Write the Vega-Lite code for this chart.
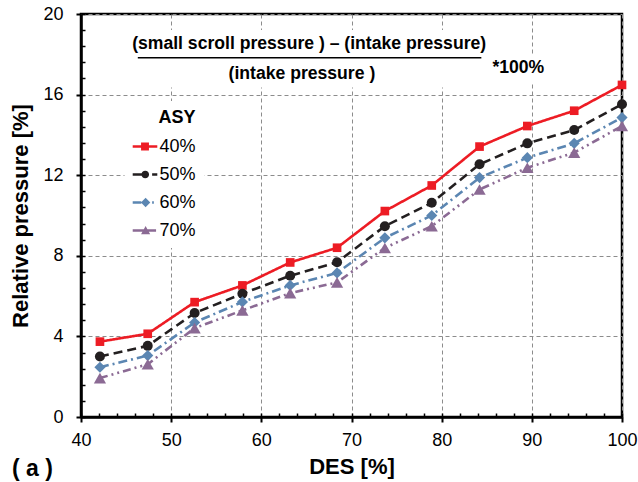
{
  "$schema": "https://vega.github.io/schema/vega-lite/v6.json",
  "width": 541,
  "height": 403,
  "autosize": "none",
  "padding": {"left": 81, "top": 14, "right": 16, "bottom": 65},
  "background": "white",
  "config": {
    "view": {"stroke": "black", "strokeWidth": 2.5},
    "font": "Liberation Sans"
  },
  "title": {
    "text": "( a )",
    "orient": "bottom",
    "anchor": "start",
    "frame": "group",
    "offset": -19,
    "dx": -69,
    "fontSize": 23,
    "fontWeight": "bold",
    "color": "black"
  },
  "datasets": {
    "pressure": [
      {"DES": 42.1, "value": 3.74, "ASY": "40%"},
      {"DES": 47.4, "value": 4.13, "ASY": "40%"},
      {"DES": 52.6, "value": 5.70, "ASY": "40%"},
      {"DES": 57.9, "value": 6.53, "ASY": "40%"},
      {"DES": 63.2, "value": 7.67, "ASY": "40%"},
      {"DES": 68.4, "value": 8.40, "ASY": "40%"},
      {"DES": 73.7, "value": 10.22, "ASY": "40%"},
      {"DES": 78.9, "value": 11.49, "ASY": "40%"},
      {"DES": 84.2, "value": 13.42, "ASY": "40%"},
      {"DES": 89.5, "value": 14.44, "ASY": "40%"},
      {"DES": 94.7, "value": 15.20, "ASY": "40%"},
      {"DES": 100, "value": 16.48, "ASY": "40%"},
      {"DES": 42.1, "value": 3.00, "ASY": "50%"},
      {"DES": 47.4, "value": 3.53, "ASY": "50%"},
      {"DES": 52.6, "value": 5.16, "ASY": "50%"},
      {"DES": 57.9, "value": 6.12, "ASY": "50%"},
      {"DES": 63.2, "value": 7.01, "ASY": "50%"},
      {"DES": 68.4, "value": 7.68, "ASY": "50%"},
      {"DES": 73.7, "value": 9.47, "ASY": "50%"},
      {"DES": 78.9, "value": 10.63, "ASY": "50%"},
      {"DES": 84.2, "value": 12.54, "ASY": "50%"},
      {"DES": 89.5, "value": 13.58, "ASY": "50%"},
      {"DES": 94.7, "value": 14.24, "ASY": "50%"},
      {"DES": 100, "value": 15.52, "ASY": "50%"},
      {"DES": 42.1, "value": 2.47, "ASY": "60%"},
      {"DES": 47.4, "value": 3.05, "ASY": "60%"},
      {"DES": 52.6, "value": 4.69, "ASY": "60%"},
      {"DES": 57.9, "value": 5.71, "ASY": "60%"},
      {"DES": 63.2, "value": 6.53, "ASY": "60%"},
      {"DES": 68.4, "value": 7.15, "ASY": "60%"},
      {"DES": 73.7, "value": 8.89, "ASY": "60%"},
      {"DES": 78.9, "value": 10.00, "ASY": "60%"},
      {"DES": 84.2, "value": 11.88, "ASY": "60%"},
      {"DES": 89.5, "value": 12.87, "ASY": "60%"},
      {"DES": 94.7, "value": 13.58, "ASY": "60%"},
      {"DES": 100, "value": 14.86, "ASY": "60%"},
      {"DES": 42.1, "value": 1.93, "ASY": "70%"},
      {"DES": 47.4, "value": 2.62, "ASY": "70%"},
      {"DES": 52.6, "value": 4.41, "ASY": "70%"},
      {"DES": 57.9, "value": 5.29, "ASY": "70%"},
      {"DES": 63.2, "value": 6.15, "ASY": "70%"},
      {"DES": 68.4, "value": 6.68, "ASY": "70%"},
      {"DES": 73.7, "value": 8.39, "ASY": "70%"},
      {"DES": 78.9, "value": 9.47, "ASY": "70%"},
      {"DES": 84.2, "value": 11.29, "ASY": "70%"},
      {"DES": 89.5, "value": 12.37, "ASY": "70%"},
      {"DES": 94.7, "value": 13.12, "ASY": "70%"},
      {"DES": 100, "value": 14.44, "ASY": "70%"}
    ]
  },
  "resolve": {"axis": {"x": "independent", "y": "independent"}},
  "layer": [
    {
      "data": {"values": [{}]},
      "mark": {"type": "rect", "fill": "white"},
      "encoding": {
        "x": {"datum": 44.9, "type": "quantitative", "scale": {"domain": [40, 100], "nice": false}, "axis": null},
        "x2": {"datum": 85.9},
        "y": {"datum": 19.2, "type": "quantitative", "scale": {"domain": [0, 20], "nice": false}, "axis": null},
        "y2": {"datum": 16.35}
      }
    },
    {
      "data": {"values": [{}]},
      "mark": {"type": "rect", "fill": "white"},
      "encoding": {
        "x": {"datum": 85.6, "type": "quantitative", "axis": null},
        "x2": {"datum": 91.8},
        "y": {"datum": 18.0, "type": "quantitative", "axis": null},
        "y2": {"datum": 16.6}
      }
    },
    {
      "data": {"name": "pressure"},
      "mark": {"type": "line", "strokeWidth": 2.6},
      "encoding": {
        "x": {
          "field": "DES", "type": "quantitative",
          "scale": {"domain": [40, 100], "nice": false},
          "axis": {
            "orient": "bottom",
            "title": "DES [%]",
            "values": [40, 50, 60, 70, 80, 90, 100],
            "grid": true, "gridColor": "#8c8c8c", "gridDash": [4, 3], "gridWidth": 1,
            "domainColor": "black", "domainWidth": 2.5,
            "tickColor": "black", "tickWidth": 2, "tickSize": 5,
            "labelFontSize": 18, "labelColor": "black", "labelPadding": 9,
            "labelFlush": false, "labelOverlap": false,
            "titleFontSize": 22, "titleFontWeight": "bold", "titleColor": "black", "titlePadding": 7
          }
        },
        "y": {
          "field": "value", "type": "quantitative",
          "scale": {"domain": [0, 20], "nice": false},
          "axis": {
            "orient": "left",
            "title": "Relative pressure [%]",
            "values": [0, 4, 8, 12, 16, 20],
            "grid": true, "gridColor": "#8c8c8c", "gridDash": [4, 3], "gridWidth": 1,
            "domainColor": "black", "domainWidth": 2.5,
            "tickColor": "black", "tickWidth": 2, "tickSize": 5,
            "labelFontSize": 18, "labelColor": "black", "labelPadding": 13,
            "labelFlush": false, "labelOverlap": false,
            "titleFontSize": 22, "titleFontWeight": "bold", "titleColor": "black", "titlePadding": 10
          }
        },
        "stroke": {
          "field": "ASY", "type": "nominal",
          "scale": {"range": ["#ed1c24", "#231f20", "#5b86b2", "#8b6a94"]},
          "legend": null
        },
        "strokeDash": {
          "field": "ASY", "type": "nominal",
          "scale": {"range": [[1, 0], [9, 5], [9, 4, 2, 4], [8, 4, 2, 4, 2, 4]]},
          "legend": null
        }
      }
    },
    {
      "data": {"name": "pressure"},
      "mark": {"type": "point", "filled": true, "opacity": 1},
      "encoding": {
        "x": {
          "field": "DES", "type": "quantitative",
          "axis": {
            "orient": "bottom", "title": null, "labels": false, "domain": false, "grid": false,
            "values": [40, 42, 44, 46, 48, 50, 52, 54, 56, 58, 60, 62, 64, 66, 68, 70, 72, 74, 76, 78, 80, 82, 84, 86, 88, 90, 92, 94, 96, 98, 100],
            "tickSize": -4, "tickWidth": 1.5, "tickColor": "black"
          }
        },
        "y": {
          "field": "value", "type": "quantitative",
          "axis": {
            "orient": "left", "title": null, "labels": false, "domain": false, "grid": false,
            "values": [0, 0.8, 1.6, 2.4, 3.2, 4, 4.8, 5.6, 6.4, 7.2, 8, 8.8, 9.6, 10.4, 11.2, 12, 12.8, 13.6, 14.4, 15.2, 16, 16.8, 17.6, 18.4, 19.2, 20],
            "tickSize": -4, "tickWidth": 1.5, "tickColor": "black"
          }
        },
        "shape": {
          "field": "ASY", "type": "nominal",
          "scale": {"range": ["square", "circle", "diamond", "triangle-up"]},
          "legend": null
        },
        "size": {
          "field": "ASY", "type": "ordinal",
          "scale": {"range": [75, 150]},
          "legend": null
        },
        "color": {
          "field": "ASY", "type": "nominal",
          "scale": {"domain": ["40%", "50%", "60%", "70%"], "range": ["#ed1c24", "#231f20", "#5b86b2", "#8b6a94"]},
          "legend": {
            "title": "ASY",
            "orient": "none",
            "legendX": 43.5,
            "legendY": 87,
            "padding": 8,
            "fillColor": "white",
            "titleFontSize": 18,
            "titleFontWeight": "bold",
            "titleColor": "black",
            "titleAnchor": "end",
            "titlePadding": 7,
            "labelFontSize": 18,
            "labelColor": "black",
            "labelOffset": 2,
            "rowPadding": 6,
            "symbolSize": 605,
            "symbolStrokeWidth": 0,
            "symbolOpacity": 1,
            "symbolType": {"expr": "datum.value === '40%' ? 'M-1,-0.1H1V0.1H-1Z M-0.32,-0.32H0.32V0.32H-0.32Z' : datum.value === '50%' ? 'M-1,-0.1H-0.25V0.1H-1Z M0.33,0A0.31,0.31 0 1,1 -0.29,0A0.31,0.31 0 1,1 0.33,0Z M0.58,-0.1H1V0.1H0.58Z' : datum.value === '60%' ? 'M-1,-0.1H-0.3V0.1H-1Z M0.05,-0.38L0.43,0L0.05,0.38L-0.33,0Z M0.58,-0.1H0.72V0.1H0.58Z' : 'M-1,-0.1H0.9V0.1H-1Z M0.05,-0.36L0.42,0.3L-0.32,0.3Z'"}
          }
        }
      }
    },
    {
      "data": {"values": [{}]},
      "mark": {"type": "rule", "color": "black", "strokeWidth": 1.5},
      "encoding": {
        "x": {"datum": 46.3, "type": "quantitative", "axis": null},
        "x2": {"datum": 84.4},
        "y": {"datum": 17.83, "type": "quantitative", "axis": null}
      }
    },
    {
      "data": {"values": [{}]},
      "mark": {"type": "text", "text": "(small scroll pressure ) – (intake pressure)", "fontSize": 17.6, "fontWeight": "bold", "color": "black"},
      "encoding": {
        "x": {"datum": 65.3, "type": "quantitative", "axis": null},
        "y": {"datum": 18.49, "type": "quantitative", "axis": null}
      }
    },
    {
      "data": {"values": [{}]},
      "mark": {"type": "text", "text": "(intake pressure )", "fontSize": 17.6, "fontWeight": "bold", "color": "black"},
      "encoding": {
        "x": {"datum": 64.5, "type": "quantitative", "axis": null},
        "y": {"datum": 17.0, "type": "quantitative", "axis": null}
      }
    },
    {
      "data": {"values": [{}]},
      "mark": {"type": "text", "text": "*100%", "fontSize": 17.6, "fontWeight": "bold", "color": "black"},
      "encoding": {
        "x": {"datum": 88.5, "type": "quantitative", "axis": null},
        "y": {"datum": 17.33, "type": "quantitative", "axis": null}
      }
    }
  ]
}
